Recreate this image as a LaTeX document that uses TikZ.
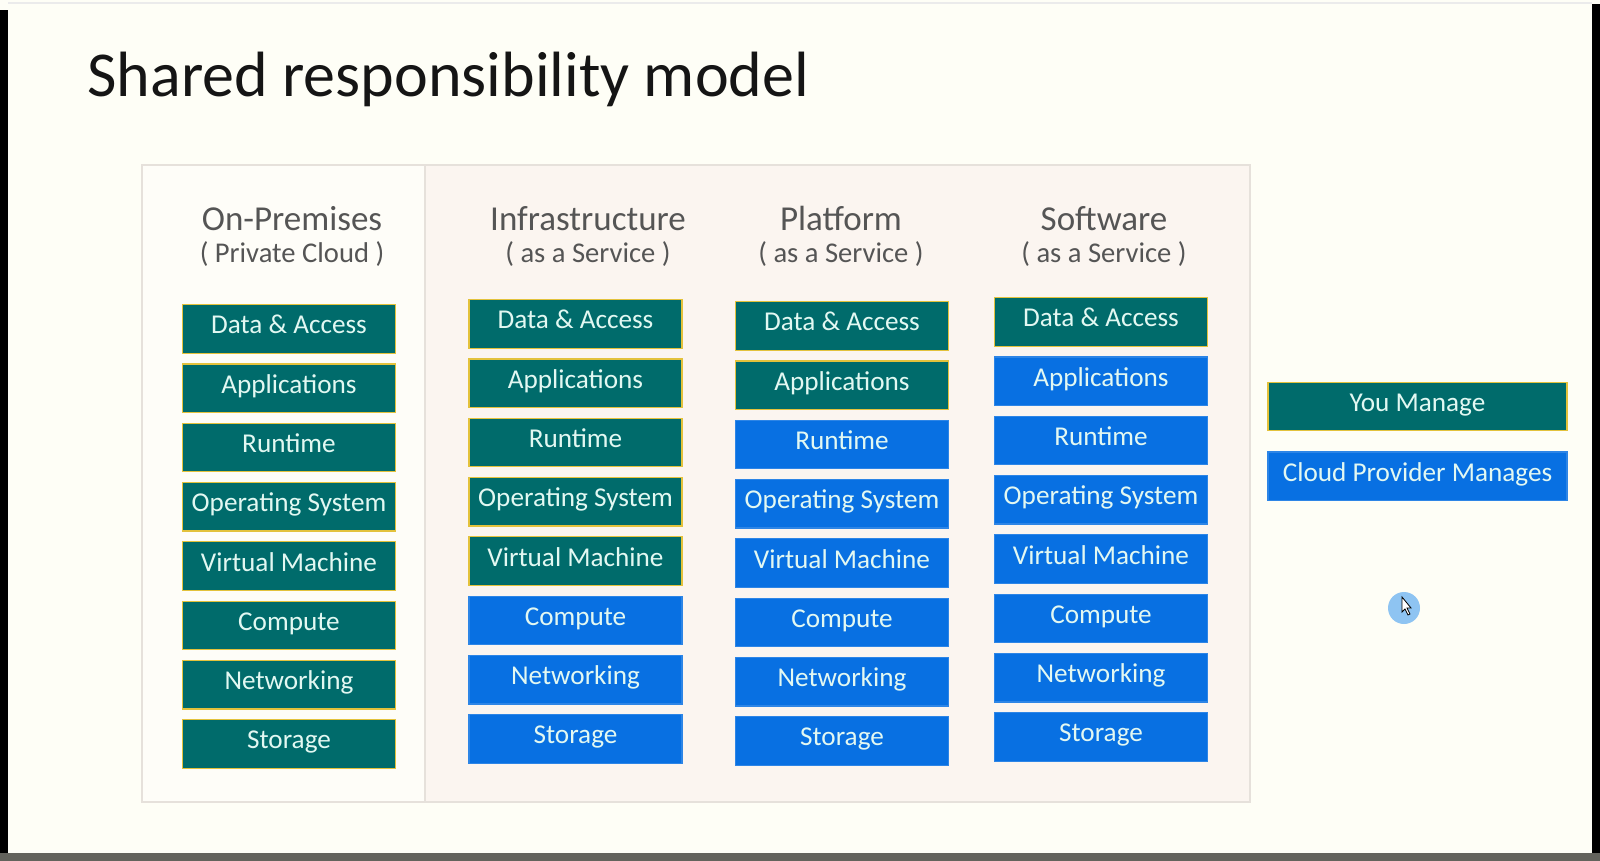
\documentclass[tikz,border=0pt]{standalone}
\usepackage{fontspec}
\setmainfont{Carlito}
\usepackage{tikz}
\usetikzlibrary{positioning}

\definecolor{pagebg}{HTML}{FEFEF6}
\definecolor{leftpanel}{HTML}{FEFDF8}
\definecolor{rightpanel}{HTML}{FBF5F0}
\definecolor{panelline}{HTML}{E6E1DB}
\definecolor{tealbox}{HTML}{006B6B}
\definecolor{goldline}{HTML}{E3C23C}
\definecolor{bluebox}{HTML}{0870E2}
\definecolor{boxtext}{HTML}{E2F8F2}
\definecolor{headgray}{HTML}{555555}
\definecolor{titleblack}{HTML}{151515}
\definecolor{bottombar}{HTML}{63635C}
\definecolor{cursorblue}{HTML}{8EC4F2}

\begin{document}
\begin{tikzpicture}[
    x=0.5pt, y=-0.5pt,
    node distance=4.8pt,
    layer/.style={rectangle, minimum width=106.5pt, minimum height=24.25pt, inner sep=0pt, line width=0.6pt, text=boxtext, font=\fontsize{13.6}{16}\selectfont, text height=8.5pt, text depth=3.5pt, text centered},
    you/.style={layer, fill=tealbox, draw=goldline},
    vendor/.style={layer, fill=bluebox, draw=bluebox!85!white},
    head/.style={font=\fontsize{17.5}{20}\selectfont, text=headgray, inner sep=0pt, anchor=base},
    subhead/.style={font=\fontsize{14.3}{17}\selectfont, text=headgray, inner sep=0pt, anchor=base},
]

    \useasboundingbox (0,0) rectangle (1600,861);
    \fill[pagebg] (0,0) rectangle (1600,861);
    \fill[black] (0,10) rectangle (8,853);
    \fill[black] (1592,4) rectangle (1600,853);
    \fill[bottombar] (0,853) rectangle (1600,861);
    \draw[black!8, line width=1pt] (8,3) -- (1592,3);

    \node (title) [anchor=base west, inner sep=0pt, font=\fontsize{32}{38}\selectfont, text=titleblack] at (87,97) {Shared responsibility model};

    \fill[leftpanel] (142,165) rectangle (425,802);
    \fill[rightpanel] (425,165) rectangle (1250,802);
    \draw[panelline, line width=0.6pt] (142,165) rectangle (1250,802);
    \draw[panelline, line width=0.6pt] (425,165) -- (425,802);

    \node (op_head) [head] at (292,231) {On-Premises};
    \node (op_sub) [subhead] at (292,263) {( Private Cloud )};
    \node (iaas_head) [head] at (588,231) {Infrastructure};
    \node (iaas_sub) [subhead] at (588,263) {( as a Service )};
    \node (paas_head) [head] at (841,231) {Platform};
    \node (paas_sub) [subhead] at (841,263) {( as a Service )};
    \node (saas_head) [head] at (1104,231) {Software};
    \node (saas_sub) [subhead] at (1104,263) {( as a Service )};

    \node (op_data) [you, anchor=north] at (289,304) {Data \& Access};
    \node (op_apps) [you, below=of op_data] {Applications};
    \node (op_rt) [you, below=of op_apps] {Runtime};
    \node (op_os) [you, below=of op_rt] {Operating System};
    \node (op_vm) [you, below=of op_os] {Virtual Machine};
    \node (op_comp) [you, below=of op_vm] {Compute};
    \node (op_net) [you, below=of op_comp] {Networking};
    \node (op_stor) [you, below=of op_net] {Storage};

    \node (iaas_data) [you, anchor=north] at (575.5,299) {Data \& Access};
    \node (iaas_apps) [you, below=of iaas_data] {Applications};
    \node (iaas_rt) [you, below=of iaas_apps] {Runtime};
    \node (iaas_os) [you, below=of iaas_rt] {Operating System};
    \node (iaas_vm) [you, below=of iaas_os] {Virtual Machine};
    \node (iaas_comp) [vendor, below=of iaas_vm] {Compute};
    \node (iaas_net) [vendor, below=of iaas_comp] {Networking};
    \node (iaas_stor) [vendor, below=of iaas_net] {Storage};

    \node (paas_data) [you, anchor=north] at (842,301) {Data \& Access};
    \node (paas_apps) [you, below=of paas_data] {Applications};
    \node (paas_rt) [vendor, below=of paas_apps] {Runtime};
    \node (paas_os) [vendor, below=of paas_rt] {Operating System};
    \node (paas_vm) [vendor, below=of paas_os] {Virtual Machine};
    \node (paas_comp) [vendor, below=of paas_vm] {Compute};
    \node (paas_net) [vendor, below=of paas_comp] {Networking};
    \node (paas_stor) [vendor, below=of paas_net] {Storage};

    \node (saas_data) [you, anchor=north] at (1101,297) {Data \& Access};
    \node (saas_apps) [vendor, below=of saas_data] {Applications};
    \node (saas_rt) [vendor, below=of saas_apps] {Runtime};
    \node (saas_os) [vendor, below=of saas_rt] {Operating System};
    \node (saas_vm) [vendor, below=of saas_os] {Virtual Machine};
    \node (saas_comp) [vendor, below=of saas_vm] {Compute};
    \node (saas_net) [vendor, below=of saas_comp] {Networking};
    \node (saas_stor) [vendor, below=of saas_net] {Storage};

    \node (key_you) [you, minimum width=149.5pt] at (1417.5,406.5) {You Manage};
    \node (key_cloud) [vendor, minimum width=149.5pt, below=10pt of key_you] {Cloud Provider Manages};

    \fill[cursorblue] (1404,608) circle (16);
    \filldraw[fill=white, draw=black, line width=0.4pt] (1402,597) -- (1402,612) -- (1405,609) -- (1408,615) -- (1410,614) -- (1407,608) -- (1411,608) -- cycle;

\end{tikzpicture}
\end{document}
